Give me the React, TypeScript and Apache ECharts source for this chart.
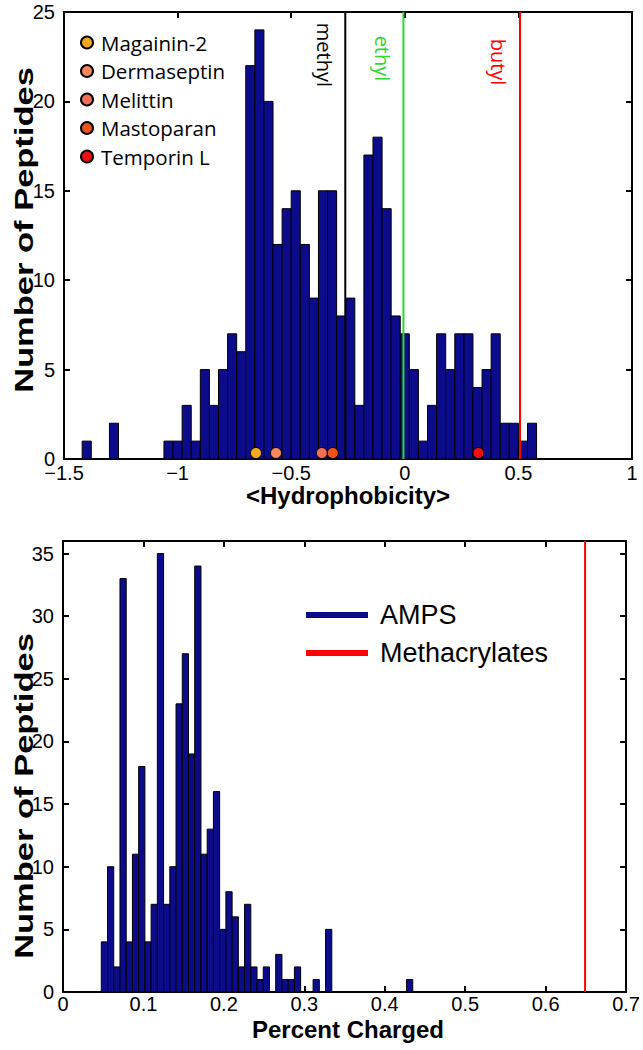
import React, { useEffect, useRef } from 'react';
import * as echarts from 'echarts';

// ---------- Data ----------
const hydroBinStart = -1.42;
const hydroBinWidth = 0.04;
const hydroCounts = [1, 0, 0, 2, 0, 0, 0, 0, 0, 1, 1, 3, 1, 5, 3, 5, 7, 6, 22, 24, 20, 12, 14, 15, 12, 9, 15, 15, 8, 9, 3, 17, 18, 14, 8, 7, 5, 1, 3, 7, 5, 7, 7, 4, 5, 7, 2, 2, 1, 2];

const chargeBinStart = 0.0476;
const chargeBinWidth = 0.007744;
const chargeCounts = [4, 10, 2, 33, 4, 11, 18, 4, 7, 35, 7, 10, 23, 27, 19, 34, 11, 13, 16, 5, 8, 6, 2, 7, 2, 1, 2, 0, 3, 1, 1, 2, 0, 0, 1, 0, 5, 0, 0, 0, 0, 0, 0, 0, 0, 0, 0, 0, 0, 1];

const peptideNames = ['Magainin-2', 'Dermaseptin', 'Melittin', 'Mastoparan', 'Temporin L'];
const peptideHydro = [-0.655, -0.567, -0.365, -0.317, 0.324];
const peptideColors = ['#f4a81c', '#f7875e', '#f46e58', '#ef521c', '#ee1010'];

const monomerNames = ['methyl', 'ethyl', 'butyl'];
const monomerHydro = [-0.262, -0.006, 0.507];
const monomerColors = ['#000000', '#2fd62f', '#ff0000'];
const monomerLabelY = [22.6, 22.4, 22.2];

const methacrylateCharge = 0.649;

const hydroTicks = { min: -1.5, max: 1, interval: 0.5 };
const hydroCountAxis = { min: 0, max: 25, interval: 5 };
const chargeTicks = { min: 0, max: 0.7, interval: 0.1 };
const chargeCountAxis = { min: 0, max: 36, interval: 5 };

const BAR_COLOR = '#0b0b8c';

function toBins(start: number, width: number, counts: number[]) {
  return counts.map((c, i) => [start + i * width, start + (i + 1) * width, c]);
}

const barRender = (params: any, api: any) => {
  const c = api.value(2);
  if (!c) return null;
  const p0 = api.coord([api.value(0), c]);
  const p1 = api.coord([api.value(1), 0]);
  return {
    type: 'rect',
    shape: { x: p0[0], y: p0[1], width: p1[0] - p0[0], height: p1[1] - p0[1] },
    style: { fill: BAR_COLOR, stroke: '#000', lineWidth: 1 },
  };
};

const FONT = 'Liberation Sans';

function axisCommon(extra: any) {
  return {
    type: 'value',
    splitLine: { show: false },
    axisLine: { show: true, onZero: false, lineStyle: { color: '#000', width: 2 } },
    axisTick: { show: true, inside: true, length: 6, lineStyle: { color: '#000', width: 2 } },
    ...extra,
  };
}

const labelStyle = { color: '#000', fontSize: 20, fontFamily: FONT };
const fmtMinus = (v: number) => String(Math.round(v * 100) / 100).replace('-', '\u2212');

const titleStyle = { fill: '#000', fontSize: 25, fontWeight: 'bold', fontFamily: FONT, align: 'center', verticalAlign: 'middle' };

export default function App() {
  const ref = useRef<HTMLDivElement>(null);
  useEffect(() => {
    if (!ref.current) return;
    const chart = echarts.init(ref.current, undefined, { renderer: 'svg' });

    const series: any[] = [
      {
        name: 'Hydro',
        type: 'custom',
        xAxisIndex: 0,
        yAxisIndex: 0,
        renderItem: barRender,
        encode: { x: [0, 1], y: 2 },
        data: toBins(hydroBinStart, hydroBinWidth, hydroCounts),
        itemStyle: { color: BAR_COLOR },
        z: 2,
      },
      ...monomerNames.map((n, i) => ({
        name: n,
        type: 'line',
        xAxisIndex: 0,
        yAxisIndex: 0,
        symbol: 'none',
        data: [[monomerHydro[i], hydroCountAxis.min], [monomerHydro[i], hydroCountAxis.max]],
        lineStyle: { color: monomerColors[i], width: 2 },
        itemStyle: { color: monomerColors[i] },
        z: 3,
      })),
      {
        name: 'monomerLabels',
        type: 'custom',
        xAxisIndex: 0,
        yAxisIndex: 0,
        data: monomerHydro.map((h, i) => [h, monomerLabelY[i]]),
        encode: { x: 0, y: 1 },
        renderItem: (params: any, api: any) => {
          const p = api.coord([api.value(0), api.value(1)]);
          const i = params.dataIndex;
          return {
            type: 'text',
            x: p[0] - 21,
            y: p[1],
            rotation: -Math.PI / 2,
            style: {
              text: monomerNames[i],
              fill: monomerColors[i],
              fontSize: 20,
              fontFamily: 'Open Sans',
              align: 'center',
              verticalAlign: 'middle',
            },
          };
        },
        z: 4,
      },
      ...peptideNames.map((n, i) => ({
        name: n,
        type: 'scatter',
        xAxisIndex: 0,
        yAxisIndex: 0,
        symbol: 'circle',
        symbolSize: 11,
        symbolOffset: [0, -6],
        data: [[peptideHydro[i], 0]],
        itemStyle: { color: peptideColors[i], borderColor: '#000', borderWidth: 1, opacity: 1 },
        z: 5,
      })),
      {
        name: 'AMPS',
        type: 'custom',
        xAxisIndex: 2,
        yAxisIndex: 2,
        renderItem: barRender,
        encode: { x: [0, 1], y: 2 },
        data: toBins(chargeBinStart, chargeBinWidth, chargeCounts),
        itemStyle: { color: BAR_COLOR },
        z: 2,
      },
      {
        name: 'Methacrylates',
        type: 'line',
        xAxisIndex: 2,
        yAxisIndex: 2,
        symbol: 'none',
        data: [[methacrylateCharge, chargeCountAxis.min], [methacrylateCharge, chargeCountAxis.max]],
        lineStyle: { color: '#ff0000', width: 2 },
        itemStyle: { color: '#ff0000' },
        z: 3,
      },
    ];

    chart.setOption({
      animation: false,
      backgroundColor: '#fff',
      grid: [
        { left: 64, top: 12, width: 568, height: 447 },
        { left: 63, top: 541, width: 568, height: 451 },
      ],
      xAxis: [
        axisCommon({
          gridIndex: 0,
          position: 'bottom',
          ...hydroTicks,
          axisLabel: { ...labelStyle, lineHeight: 16, margin: 6, formatter: fmtMinus },
        }),
        axisCommon({ gridIndex: 0, position: 'top', ...hydroTicks, axisLabel: { show: false } }),
        axisCommon({
          gridIndex: 1,
          position: 'bottom',
          ...chargeTicks,
          axisLabel: { ...labelStyle, lineHeight: 16, margin: 4, formatter: fmtMinus },
        }),
        axisCommon({ gridIndex: 1, position: 'top', ...chargeTicks, axisLabel: { show: false } }),
      ],
      yAxis: [
        axisCommon({
          gridIndex: 0,
          position: 'left',
          ...hydroCountAxis,
          axisLabel: { ...labelStyle, lineHeight: 12, margin: 9 },
        }),
        axisCommon({ gridIndex: 0, position: 'right', ...hydroCountAxis, axisLabel: { show: false } }),
        axisCommon({
          gridIndex: 1,
          position: 'left',
          ...chargeCountAxis,
          axisLabel: { ...labelStyle, lineHeight: 12, margin: 9, formatter: (v: number) => (v % 5 === 0 ? String(v) : '') },
        }),
        axisCommon({ gridIndex: 1, position: 'right', ...chargeCountAxis, axisLabel: { show: false } }),
      ],
      legend: [
        {
          data: peptideNames,
          orient: 'vertical',
          left: 80,
          top: 32,
          padding: 0,
          icon: 'circle',
          itemWidth: 12,
          itemHeight: 12,
          itemGap: 7.5,
          selectedMode: false,
          textStyle: { color: '#000', fontSize: 20.5, lineHeight: 20, fontFamily: 'Open Sans', padding: [0, 0, 0, 3] },
        },
        {
          data: ['AMPS', 'Methacrylates'],
          orient: 'vertical',
          left: 306,
          top: 600,
          padding: 0,
          icon: 'rect',
          itemWidth: 62,
          itemHeight: 6,
          itemGap: 8,
          selectedMode: false,
          textStyle: { color: '#000', fontSize: 27, lineHeight: 30, fontFamily: FONT, padding: [0, 0, 0, 7] },
        },
      ],
      graphic: [
        { type: 'text', x: 24, y: 230, rotation: Math.PI / 2, scaleX: 1.38, style: { ...titleStyle, text: 'Number of Peptides' } },
        { type: 'text', x: 24, y: 796, rotation: Math.PI / 2, scaleX: 1.38, style: { ...titleStyle, text: 'Number of Peptides' } },
        { type: 'text', x: 348, y: 495, style: { ...titleStyle, fontSize: 24, text: '<Hydrophobicity>' } },
        { type: 'text', x: 348, y: 1029, style: { ...titleStyle, fontSize: 24, text: 'Percent Charged' } },
      ],
      series,
    });

    return () => chart.dispose();
  }, []);

  return (
    <div
      ref={ref}
      style={{ position: 'absolute', left: 0, top: 0, width: 643, height: 1050, background: '#fff' }}
    />
  );
}
